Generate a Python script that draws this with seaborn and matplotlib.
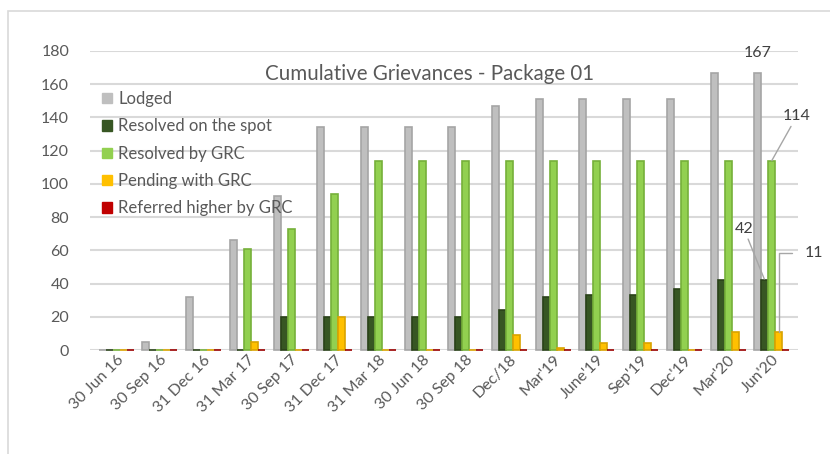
import matplotlib.pyplot as plt
import matplotlib.patches as mpatches
import numpy as np
import pandas as pd
import seaborn as sns

# %%
# data

periods = [
    "30 Jun 16", "30 Sep 16", "31 Dec 16", "31 Mar 17", "30 Sep 17", "31 Dec 17",
    "31 Mar 18", "30 Jun 18", "30 Sep 18", "Dec/18", "Mar'19", "June'19",
    "Sep'19", "Dec'19", "Mar'20", "Jun'20",
]
lodged = [0, 5, 32, 66, 93, 134, 134, 134, 134, 147, 151, 151, 151, 151, 167, 167]
resolved_spot = [0, 0, 0, 0, 20, 20, 20, 20, 20, 24, 32, 33, 33, 37, 42, 42]
resolved_grc = [0, 0, 0, 61, 73, 94, 114, 114, 114, 114, 114, 114, 114, 114, 114, 114]
pending_grc = [0, 0, 0, 5, 0, 20, 0, 0, 0, 9, 1, 4, 4, 0, 11, 11]
referred_grc = [0] * 16

series = ["Lodged", "Resolved on the spot", "Resolved by GRC",
          "Pending with GRC", "Referred higher by GRC"]
colours = ["#bfbfbf", "#375623", "#92d050", "#ffc000", "#c00000"]
edges = ["#a5a5a5", "#2a4219", "#76b03a", "#d9a300", "#9a0000"]

df = pd.DataFrame({
    "period": periods * 5,
    "series": np.repeat(series, len(periods)),
    "value": lodged + resolved_spot + resolved_grc + pending_grc + referred_grc,
})

# %%
sns.set_theme(style="white")
plt.rcParams["font.family"] = ["Lato", "DejaVu Sans"]
txt = "#595959"

fig = plt.figure(figsize=(8.3, 4.54), dpi=100)
ax = fig.add_axes([90 / 830, 1 - 350 / 454, 708 / 830, 299 / 454])

sns.barplot(data=df, x="period", y="value", hue="series", hue_order=series,
            palette=colours, width=0.8, saturation=1, ax=ax, legend=False)

# zero values still show as a thin tile, as in the original
for i, cont in enumerate(ax.containers):
    for p in cont:
        p.set_edgecolor(edges[i])
        p.set_linewidth(1.2)
        p.set_clip_on(False)

ax.set_ylim(0, 180)
ax.set_xlim(-0.6, 15.6)
ax.set_yticks(range(0, 181, 20))
ax.yaxis.grid(True, color="#d9d9d9", linewidth=1.5)
ax.set_axisbelow(True)
for s in ax.spines.values():
    s.set_visible(False)
ax.set_xlabel("")
ax.set_ylabel("")
ax.tick_params(axis="y", labelsize=11.5, colors=txt, length=0, pad=15)
ax.tick_params(axis="x", labelsize=11.5, colors=txt, length=0, pad=2)
plt.setp(ax.get_xticklabels(), rotation=45, ha="right", rotation_mode="anchor")

ax.text(0.48, 0.922, "Cumulative Grievances - Package 01", transform=ax.transAxes,
        ha="center", va="center", fontsize=14.8, color=txt)

handles = [mpatches.Patch(color=c, label=s) for c, s in zip(colours, series)]
ax.legend(handles=handles, loc="upper left", bbox_to_anchor=(0.0, 0.905),
          frameon=False, fontsize=12, labelcolor=txt, handlelength=0.6,
          handleheight=0.6, handletextpad=0.4, labelspacing=0.68,
          borderaxespad=0.3)

# data labels on the last period
last = len(periods) - 1
def bar_top(k):
    p = ax.containers[k][last]
    return p.get_x() + p.get_width() / 2, p.get_height()

lab = dict(fontsize=11.5, color="#404040", annotation_clip=False)
line = dict(arrowstyle="-", color="#a6a6a6", lw=1, shrinkA=0, shrinkB=0)

x0, y0 = bar_top(0)
ax.annotate("167", (x0, y0), xytext=(0, 9), textcoords="offset points",
            ha="center", va="bottom", **lab)
x2, y2 = bar_top(2)
ax.annotate("114", (x2, y2), xytext=(18, 27), textcoords="offset points",
            ha="center", va="bottom", arrowprops=line, **lab)
x1, y1 = bar_top(1)
ax.annotate("42", (x1, y1), xytext=(-15, 32), textcoords="offset points",
            ha="center", va="bottom", arrowprops=dict(line, shrinkB=1), **lab)
x3, y3 = bar_top(3)
ax.annotate("11", (x3, y3), xytext=(19, 57), textcoords="offset points",
            ha="left", va="center",
            arrowprops=dict(line, shrinkA=7,
                            connectionstyle="angle,angleA=0,angleB=90,rad=0"),
            **lab)

# chart frame
fig.patches.append(mpatches.Rectangle((8 / 830, -0.05), 1.0, 1 - 11 / 454 + 0.05,
                                      transform=fig.transFigure, fill=False,
                                      edgecolor="#d9d9d9", linewidth=1.2))

fig.savefig("out.png", dpi=100)
